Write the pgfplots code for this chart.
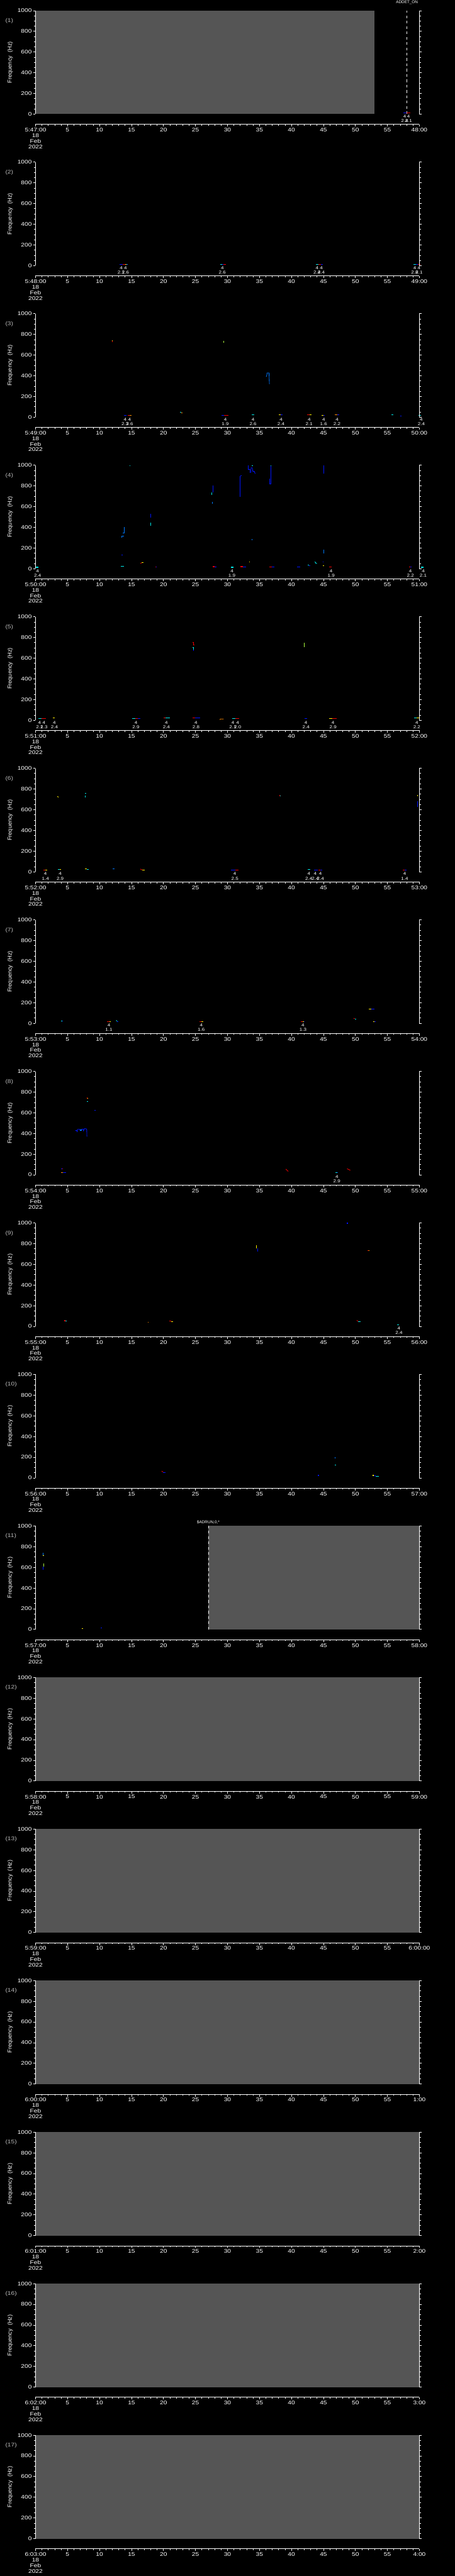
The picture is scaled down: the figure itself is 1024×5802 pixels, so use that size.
\documentclass[border=0pt]{standalone}
\usepackage{fontspec}
\setmainfont{Liberation Sans}
\newfontfamily\hfont[FakeStretch=1.2]{Liberation Sans}
\usepackage{pgfplots}
\pgfplotsset{compat=1.18}
\definecolor{fillgray}{RGB}{85,85,85}
\definecolor{pblue}{RGB}{0,20,255}
\definecolor{lblue}{RGB}{0,120,255}
\definecolor{ccyan}{RGB}{0,230,230}
\definecolor{cred}{RGB}{235,0,0}
\definecolor{cyel}{RGB}{255,235,0}
\definecolor{corg}{RGB}{255,140,0}
\definecolor{cgrn}{RGB}{170,255,60}
\definecolor{numgray}{RGB}{185,185,185}
\newcommand\tf{\hfont\fontsize{12}{12.5}\selectfont}
\newcommand\ef{\hfont\fontsize{9.5}{10}\selectfont}
\pgfplotsset{
 panel/.style 2 args={
  scale only axis, width=864pt, height=233pt,
  anchor=north west,
  xmin=0,xmax=60,ymin=0,ymax=1000,
  axis x line*=bottom, axis y line*=box,
  axis x line shift=23pt,
  axis on top, clip=false,
  axis line style={white,line width=1.2pt},
  tick style={white,line width=1.2pt},
  tick align=outside,
  major tick length=5pt, minor tick length=3pt,
  xtick={0,5,...,60}, minor x tick num=4,
  ytick={0,200,...,1000}, minor y tick num=3,
  yticklabel pos=left,
  yticklabels={0,200,400,600,800,1000},
  xticklabels={{#1\\18\\Feb\\2022},5,10,15,20,25,30,35,40,45,50,55,#2},
  ticklabel style={white,font=\tf},
  xticklabel style={align=center,anchor=north},
 },
 ev/.style={line width=1.5pt},
 dl/.style={line width=1.2pt},
}
\newcommand\deco[1]{%
 \node[anchor=west,numgray,font=\tf,inner sep=0pt] at (rel axis cs:-0.0787,0.901) {(#1)};
 \node[rotate=90,white,font=\fontsize{13}{13}\selectfont,inner sep=0pt] at (rel axis cs:-0.066,0.5) {Frequency\ \ (Hz)};}
\newcommand\seg[4]{\addplot[ev,#1] coordinates {(#2,#4) (#3,#4)};}
\newcommand\vs[4]{\addplot[dl,#1] coordinates {(#2,#3) (#2,#4)};}
\newcommand\lab[2]{\node[white,font=\ef,align=center,anchor=north,inner sep=0pt,yshift=-1.5pt] at (axis cs:#1,0) {4\\#2};}
\newcommand\fullgray{\addplot[fill=fillgray,draw=none] coordinates {(0,1000) (60,1000)} \closedcycle;}
\begin{document}
\begin{tikzpicture}
\useasboundingbox (0,0) rectangle (1024pt,-5802pt);
\fill[black] (0,0) rectangle (1024pt,-5802pt);
% ---- panel 1
\begin{axis}[panel={5:47:00}{48:00}, at={(80pt,-24pt)}]
\deco{1}
\addplot[fill=fillgray,draw=none] coordinates {(0,1000) (53.0,1000)} \closedcycle;
\addplot[white,line width=1.2pt,dash pattern=on 6pt off 6pt] coordinates {(58.06,0) (58.06,1000)};
\seg{pblue}{57.5}{58.0}{14}\seg{cred}{58.0}{58.6}{14}
\lab{57.7}{2.4}\lab{58.3}{2.1}
\node[white,font=\fontsize{9}{9}\selectfont,anchor=south,inner sep=0pt,yshift=14pt] at (axis cs:58.06,1000) {ADDET\_ON};
\end{axis}
% ---- panel 2
\begin{axis}[panel={5:48:00}{49:00}, at={(80pt,-365.3pt)}]
\deco{2}
\seg{pblue}{13.1}{13.6}{14}\seg{cred}{13.6}{14.0}{14}\seg{cyel}{14.0}{14.2}{14}\seg{lblue}{14.2}{14.4}{14}
\seg{ccyan}{28.9}{29.2}{14}\seg{pblue}{29.2}{29.4}{14}\seg{cred}{29.4}{29.8}{14}
\seg{ccyan}{43.8}{44.2}{14}\seg{cred}{44.2}{44.6}{14}\seg{pblue}{44.6}{44.9}{14}
\seg{ccyan}{59.1}{59.5}{14}\seg{pblue}{59.5}{59.8}{14}\seg{cred}{59.8}{60.2}{14}
\lab{13.38}{2.1}\lab{14.06}{2.6}\lab{29.2}{2.6}\lab{44.0}{2.4}\lab{44.67}{2.4}\lab{59.27}{2.8}\lab{59.95}{2.1}
\end{axis}
% ---- panel 3
\begin{axis}[panel={5:49:00}{50:00}, at={(80pt,-706.6pt)}]
\deco{3}
\vs{cred}{11.97}{728}{736}\vs{cyel}{12.0}{736}{742}
\vs{cgrn}{29.43}{722}{736}
\seg{ccyan}{22.6}{22.8}{50}\seg{corg}{22.8}{23.0}{42}
\addplot[dl,lblue] coordinates {(36.05,390)(36.15,405)(36.2,428)(36.5,428)(36.55,323)(36.6,323)};
\seg{pblue}{13.8}{14.2}{18}\seg{cred}{14.4}{14.7}{18}\seg{corg}{14.7}{15.0}{18}
\seg{pblue}{29.1}{29.5}{18}\seg{cred}{29.5}{30.2}{18}
\seg{ccyan}{33.8}{34.2}{22}
\seg{cyel}{38.0}{38.3}{22}\seg{pblue}{38.3}{38.6}{22}
\seg{cred}{42.4}{42.8}{22}\seg{cyel}{42.8}{43.1}{22}
\seg{cyel}{44.7}{45.0}{18}\seg{pblue}{45.0}{45.2}{18}
\seg{corg}{46.8}{47.2}{22}\seg{pblue}{47.2}{47.5}{22}
\seg{ccyan}{55.6}{55.9}{25}
\seg{pblue}{57.0}{57.2}{12}
\seg{ccyan}{59.9}{60.3}{18}
\lab{14.0}{2.3}\lab{14.7}{2.6}\lab{29.66}{1.9}\lab{34.0}{2.6}\lab{38.37}{2.4}\lab{42.77}{2.1}\lab{45.03}{1.6}\lab{47.12}{2.2}\lab{60.3}{2.4}
\end{axis}
% ---- panel 4
\begin{axis}[panel={5:50:00}{51:00}, at={(80pt,-1047.9pt)}]
\deco{4}
\seg{ccyan}{14.7}{14.85}{995}
\addplot[dl,lblue] coordinates {(13.6,346)(13.83,346)(13.83,403)(13.9,403)};
\addplot[dl,lblue] coordinates {(13.5,300)(13.5,315)(13.83,315)};
\seg{pblue}{13.45}{13.6}{134}
\seg{ccyan}{13.3}{13.8}{23}
\seg{cred}{16.4}{16.6}{55}\seg{cyel}{16.6}{16.9}{60}
\vs{pblue}{18.0}{494}{532}\vs{ccyan}{17.95}{415}{446}
\seg{cred}{18.7}{18.8}{18}\seg{pblue}{18.8}{18.95}{18}
\vs{pblue}{27.7}{740}{804}\vs{ccyan}{27.55}{711}{740}\vs{lblue}{27.65}{625}{646}
\seg{cred}{27.7}{28.0}{20}\seg{pblue}{28.0}{28.3}{18}
\seg{ccyan}{30.5}{30.9}{14}
\vs{pblue}{32.0}{697}{897}\seg{pblue}{32.0}{32.2}{897}
\seg{cred}{32.0}{32.4}{20}\seg{pblue}{32.4}{32.9}{18}
\addplot[dl,pblue] coordinates {(33.29,1000)(33.29,961)(33.51,961)(33.51,928)};
\addplot[dl,pblue] coordinates {(33.69,928)(33.69,976)(33.87,976)(33.97,940)(34.2,940)(34.33,918)};
\seg{ccyan}{33.8}{33.95}{998}
\seg{cyel}{33.35}{33.5}{63}
\vs{lblue}{33.87}{275}{285}
\vs{pblue}{36.82}{815}{997}\vs{pblue}{36.6}{818}{871}\seg{pblue}{36.6}{36.82}{818}\seg{ccyan}{36.75}{36.85}{997}
\seg{cred}{36.5}{36.9}{18}\seg{pblue}{36.9}{37.3}{18}
\seg{pblue}{40.9}{41.4}{18}
\seg{ccyan}{42.5}{42.7}{33}\seg{pblue}{42.7}{42.9}{30}
\addplot[dl,ccyan] coordinates {(43.6,64)(43.75,64)(43.8,52)(44.0,50)};
\vs{pblue}{45.0}{918}{997}\vs{lblue}{45.0}{150}{186}\seg{pblue}{44.95}{45.05}{64}\seg{cyel}{44.95}{45.1}{31}
\seg{cred}{45.9}{46.3}{16}
\seg{cred}{58.4}{58.6}{18}\seg{pblue}{58.6}{58.8}{18}
\seg{ccyan}{0.1}{0.45}{14}
\seg{ccyan}{60.3}{60.6}{14}
\lab{0.32}{2.4}\lab{30.7}{1.9}\lab{46.2}{1.9}\lab{58.6}{2.2}\lab{60.6}{2.1}
\end{axis}
% ---- panel 5
\begin{axis}[panel={5:51:00}{52:00}, at={(80pt,-1389.2pt)}]
\deco{5}
\seg{ccyan}{0.45}{0.9}{17}\seg{cred}{0.9}{1.6}{17}
\seg{cyel}{2.7}{3.0}{20}
\seg{ccyan}{15.1}{15.6}{17}\seg{cred}{15.6}{16.0}{17}\seg{pblue}{16.0}{16.4}{17}
\seg{cred}{20.0}{20.3}{22}\seg{ccyan}{20.3}{21.0}{20}
\seg{cred}{24.5}{24.9}{22}\seg{pblue}{24.9}{25.7}{20}
\addplot[dl,corg] coordinates {(28.8,5)(28.9,12)(29.4,12)};
\seg{ccyan}{30.7}{31.2}{16}\seg{cred}{31.2}{31.8}{16}
\seg{pblue}{42.1}{42.4}{16}
\seg{cyel}{45.9}{46.4}{16}\seg{cred}{46.4}{47.1}{16}
\seg{ccyan}{59.2}{59.6}{20}\seg{cyel}{59.6}{60.0}{20}
\addplot[dl,cred] coordinates {(24.5,752)(24.65,752)(24.65,731)(24.8,731)};
\addplot[dl,ccyan] coordinates {(24.5,707)(24.65,707)(24.65,680)};
\vs{pblue}{24.7}{671}{682}
\vs{cgrn}{41.95}{707}{747}
\lab{0.63}{2.1}\lab{1.32}{2.3}\lab{2.95}{2.4}\lab{15.7}{2.9}\lab{20.45}{2.4}\lab{25.08}{2.8}\lab{30.84}{2.1}\lab{31.6}{2.0}\lab{42.27}{2.4}\lab{46.5}{2.9}\lab{59.6}{2.2}
\end{axis}
% ---- panel 6
\begin{axis}[panel={5:52:00}{53:00}, at={(80pt,-1730.5pt)}]
\deco{6}
\seg{cred}{1.2}{1.5}{18}\seg{cyel}{1.5}{1.8}{18}
\seg{ccyan}{3.5}{3.8}{24}\seg{cyel}{3.8}{4.0}{24}
\seg{cyel}{7.7}{8.0}{27}\seg{ccyan}{8.0}{8.3}{24}
\seg{lblue}{12.1}{12.3}{27}
\addplot[dl,cred] coordinates {(16.4,27)(16.5,20)(16.7,20)};
\seg{cyel}{16.7}{17.1}{18}
\seg{pblue}{30.5}{31.2}{18}\seg{cred}{31.2}{31.7}{18}
\seg{ccyan}{42.5}{42.9}{24}
\seg{pblue}{43.5}{44.1}{18}
\seg{cred}{44.2}{44.5}{18}\seg{pblue}{44.5}{44.8}{18}
\seg{cred}{57.4}{57.7}{18}\seg{pblue}{57.7}{58.0}{18}
\addplot[dl,cyel] coordinates {(3.4,728)(3.6,721)};
\seg{ccyan}{7.7}{7.9}{760}
\vs{ccyan}{7.8}{718}{738}
\vs{cred}{38.2}{728}{742}\seg{ccyan}{38.2}{38.35}{735}
\vs{cyel}{59.7}{730}{742}
\vs{pblue}{59.7}{628}{681}
\lab{1.54}{1.4}\lab{3.85}{2.9}\lab{31.15}{2.5}\lab{42.72}{2.4}\lab{43.72}{2.4}\lab{44.53}{2.4}\lab{57.7}{1.4}
\end{axis}
% ---- panel 7
\begin{axis}[panel={5:53:00}{54:00}, at={(80pt,-2071.8pt)}]
\deco{7}
\seg{ccyan}{4.0}{4.15}{24}\seg{pblue}{4.15}{4.3}{20}
\seg{cred}{11.2}{11.6}{18}\seg{cyel}{11.6}{11.8}{18}
\addplot[dl,ccyan] coordinates {(12.6,30)(12.75,20)};
\seg{pblue}{12.75}{12.9}{18}
\seg{cred}{25.6}{25.95}{18}\seg{cyel}{25.95}{26.2}{18}
\seg{cred}{41.5}{41.8}{18}\seg{cyel}{41.8}{41.95}{18}\seg{pblue}{41.95}{42.1}{18}
\addplot[dl,cred] coordinates {(49.7,49)(49.9,45)};
\seg{ccyan}{49.9}{50.1}{40}
\seg{cyel}{52.1}{52.5}{137}\seg{pblue}{52.5}{53.0}{137}
\seg{cyel}{52.8}{53.0}{18}\seg{pblue}{53.0}{53.2}{18}
\lab{11.47}{1.1}\lab{25.9}{1.6}\lab{41.8}{1.3}
\end{axis}
% ---- panel 8
\begin{axis}[panel={5:54:00}{55:00}, at={(80pt,-2413.1pt)}]
\deco{8}
\seg{pblue}{4.0}{4.15}{59}\seg{cred}{4.15}{4.3}{59}
\seg{corg}{4.0}{4.3}{24}\seg{pblue}{4.3}{4.76}{24}
\addplot[dl,pblue] coordinates {(6.2,428)(6.5,428)(6.5,413)(6.55,440)(6.9,440)(7.0,428)(7.2,440)(7.4,442)(7.5,425)(7.6,445)(7.9,445)(8.0,440)(8.03,370)};
\seg{lblue}{6.9}{7.2}{432}
\vs{cred}{8.1}{735}{747}\seg{cyel}{8.1}{8.25}{740}
\seg{ccyan}{8.05}{8.25}{711}
\seg{pblue}{9.2}{9.4}{621}
\addplot[dl,cred] coordinates {(39.1,56)(39.5,34)};
\seg{ccyan}{46.9}{47.15}{20}\seg{pblue}{47.15}{47.3}{20}
\addplot[dl,cred] coordinates {(48.7,59)(49.2,44)};
\lab{47.1}{2.9}
\end{axis}
% ---- panel 9
\begin{axis}[panel={5:55:00}{56:00}, at={(80pt,-2754.4pt)}]
\deco{9}
\seg{cred}{4.5}{4.7}{55}\seg{ccyan}{4.7}{4.85}{50}
\seg{corg}{17.55}{17.7}{40}
\seg{cred}{20.9}{21.2}{50}\seg{cyel}{21.2}{21.45}{45}
\vs{cyel}{34.55}{756}{785}\vs{pblue}{34.75}{721}{756}
\seg{pblue}{48.6}{48.8}{997}
\seg{cred}{51.9}{52.05}{732}\seg{cyel}{52.05}{52.2}{732}
\addplot[dl,cred] coordinates {(50.2,59)(50.45,47)};
\seg{ccyan}{50.45}{50.8}{44}
\seg{ccyan}{56.55}{56.8}{16}
\lab{56.8}{2.4}
\end{axis}
% ---- panel 10
\begin{axis}[panel={5:56:00}{57:00}, at={(80pt,-3095.7pt)}]
\deco{10}
\addplot[dl,cred] coordinates {(19.7,66)(19.95,57)};
\seg{pblue}{19.95}{20.3}{53}
\seg{pblue}{44.1}{44.3}{24}
\vs{lblue}{46.85}{187}{199}
\seg{ccyan}{46.75}{46.95}{127}
\seg{cyel}{52.7}{52.9}{24}\seg{pblue}{52.9}{53.2}{20}\seg{ccyan}{53.2}{53.7}{16}
\end{axis}
% ---- panel 11
\begin{axis}[panel={5:57:00}{58:00}, at={(80pt,-3437.0pt)}]
\deco{11}
\addplot[fill=fillgray,draw=none] coordinates {(27.0,1000) (60,1000)} \closedcycle;
\addplot[white,line width=1.2pt,dash pattern=on 6pt off 6pt] coordinates {(27.0,0) (27.0,1000)};
\node[white,font=\fontsize{9}{9}\selectfont,anchor=south,inner sep=0pt,yshift=4.5pt] at (axis cs:27.0,1000) {\$ADRUN,0,*};
\vs{lblue}{1.22}{713}{742}\seg{cyel}{1.15}{1.3}{713}
\vs{pblue}{1.22}{577}{610}\vs{cgrn}{1.3}{610}{635}
\seg{cyel}{7.2}{7.45}{9}
\seg{pblue}{10.2}{10.4}{16}
\end{axis}
% ---- panels 12-17
\begin{axis}[panel={5:58:00}{59:00}, at={(80pt,-3778.3pt)}]
\deco{12}\fullgray
\end{axis}
\begin{axis}[panel={5:59:00}{6:00:00}, at={(80pt,-4119.6pt)}]
\deco{13}\fullgray
\end{axis}
\begin{axis}[panel={6:00:00}{1:00}, at={(80pt,-4460.9pt)}]
\deco{14}\fullgray
\end{axis}
\begin{axis}[panel={6:01:00}{2:00}, at={(80pt,-4802.2pt)}]
\deco{15}\fullgray
\end{axis}
\begin{axis}[panel={6:02:00}{3:00}, at={(80pt,-5143.5pt)}]
\deco{16}\fullgray
\end{axis}
\begin{axis}[panel={6:03:00}{4:00}, at={(80pt,-5484.8pt)}]
\deco{17}\fullgray
\end{axis}
\end{tikzpicture}
\end{document}
